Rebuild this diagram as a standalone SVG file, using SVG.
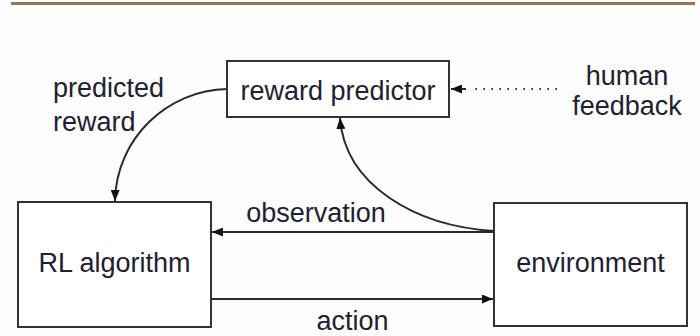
<svg xmlns="http://www.w3.org/2000/svg" width="700" height="336" viewBox="0 0 700 336">
  <style>
    .box { fill: #ffffff; stroke: #333333; stroke-width: 2; }
    .lbl { font-family: "Liberation Sans", Arial, sans-serif; font-size: 27px; fill: #1e2130; text-anchor: middle; }
    .left { text-anchor: start; }
    .edge { fill: none; stroke: #2a2a2a; stroke-width: 2; }
  </style>
  <defs>
    <marker id="arrow" viewBox="0 0 11 9" refX="11" refY="4.5" markerWidth="11" markerHeight="9" markerUnits="userSpaceOnUse" orient="auto">
      <path d="M0,0 L11,4.5 L0,9 Z" fill="#111111"/>
    </marker>
  </defs>

  <rect width="700" height="336" fill="#fdfdfd"/>
  <!-- header rule -->
  <rect x="11" y="2" width="684" height="3" fill="#9e7253"/>

  <g id="connectors">
    <!-- predicted reward: reward predictor -> RL algorithm -->
    <path class="edge" d="M227,89 C168,90 116,138 115,201" marker-end="url(#arrow)"/>
    <!-- environment -> reward predictor -->
    <path class="edge" d="M494,231 C415,226 345,185 340,118" marker-end="url(#arrow)"/>
    <!-- observation: environment -> RL algorithm -->
    <path class="edge" d="M494,232 L212,232" marker-end="url(#arrow)"/>
    <!-- action: RL algorithm -> environment -->
    <path class="edge" d="M211,299 L493,299" marker-end="url(#arrow)"/>
    <!-- human feedback (dotted) -->
    <path d="M557,89 L472,89" fill="none" stroke="#333" stroke-width="2" stroke-dasharray="1.6 6.4"/>
    <path d="M466,89 L451,89" class="edge" marker-end="url(#arrow)"/>
  </g>

  <g id="reward-predictor">
    <rect class="box" x="227" y="61" width="222" height="56"/>
    <text class="lbl" x="338" y="100">reward predictor</text>
  </g>

  <g id="rl-algorithm">
    <rect class="box" x="18" y="202" width="193" height="125"/>
    <text class="lbl" x="114.5" y="272">RL algorithm</text>
  </g>

  <g id="environment">
    <rect class="box" x="494" y="203" width="193" height="123"/>
    <text class="lbl" x="590.5" y="272">environment</text>
  </g>

  <g id="labels">
    <text class="lbl left" x="53" y="97">predicted</text>
    <text class="lbl left" x="53" y="131">reward</text>
    <text class="lbl" x="627" y="85">human</text>
    <text class="lbl" x="627" y="115">feedback</text>
    <text class="lbl" x="316" y="222">observation</text>
    <text class="lbl" x="352.5" y="330">action</text>
  </g>
</svg>
